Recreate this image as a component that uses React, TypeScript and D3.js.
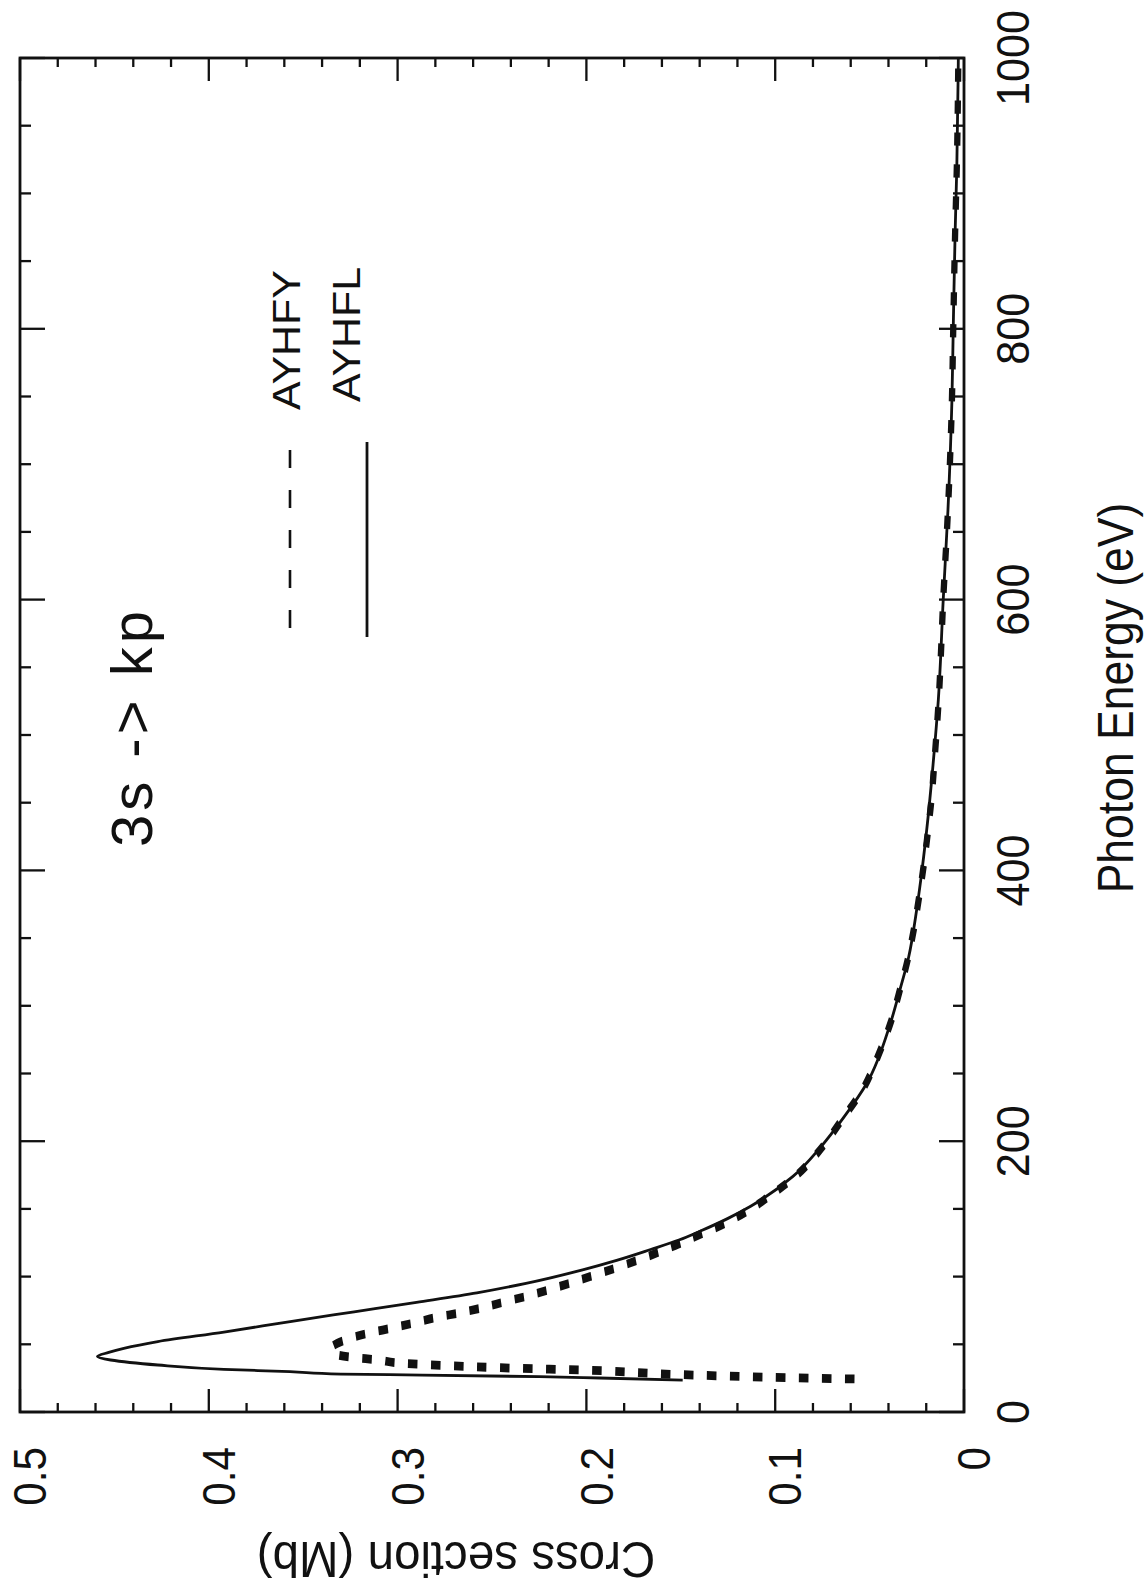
import { useEffect, useRef } from 'react';
import * as d3 from 'd3';

// photon energy axis (eV) and cross section axis (Mb)
const energyTicks = [0, 200, 400, 600, 800, 1000];
const sigmaTicks = [0.5, 0.4, 0.3, 0.2, 0.1, 0];
const sigmaTickLabels = ['0.5', '0.4', '0.3', '0.2', '0.1', '0'];

// AYHFL (solid line)
const ayhflEnergy = [23.6, 25.1, 26.1, 27.3, 28.0, 29.8, 31.5, 34.7, 38.4, 41.0, 44.0, 47.0, 52.0, 59.0, 67.0, 74.0, 81.0, 88.0, 95.0, 105, 112, 120, 127, 134, 143, 152, 174, 195, 217, 243, 287, 312, 336, 366, 393, 428, 478, 526, 600, 666, 747, 800, 871, 920, 1000];
const ayhflSigma = [0.149, 0.193, 0.225, 0.287, 0.33, 0.357, 0.392, 0.427, 0.452, 0.459, 0.453, 0.445, 0.427, 0.392, 0.356, 0.323, 0.29, 0.258, 0.232, 0.202, 0.184, 0.166, 0.151, 0.139, 0.125, 0.113, 0.0906, 0.0763, 0.064, 0.0514, 0.039, 0.0339, 0.0293, 0.0256, 0.0229, 0.0199, 0.0164, 0.0136, 0.011, 0.0085, 0.0064, 0.0057, 0.0047, 0.0038, 0.003];

// AYHFY (dashed line, drawn as square dots)
const ayhfyEnergy = [24.4, 25.8, 27.8, 31.0, 32.3, 34.2, 36.0, 38.4, 40.5, 43.5, 47.0, 53.0, 58.0, 62.0, 65.5, 70.0, 73.0, 77.0, 81.5, 85.0, 92.0, 100, 112, 123, 131, 139, 149, 161.5, 175, 193.5, 216, 240, 262, 287, 312, 336, 357, 382, 405, 430, 453, 478, 526, 600, 666, 747, 800, 871, 920, 1000];
const ayhfySigma = [0.058, 0.106, 0.154, 0.202, 0.237, 0.273, 0.298, 0.31, 0.325, 0.334, 0.335, 0.328, 0.316, 0.303, 0.292, 0.279, 0.268, 0.255, 0.243, 0.233, 0.216, 0.198, 0.173, 0.153, 0.14, 0.127, 0.114, 0.101, 0.0885, 0.0763, 0.0646, 0.0529, 0.0458, 0.039, 0.0339, 0.0295, 0.0265, 0.0236, 0.0212, 0.019, 0.0172, 0.0158, 0.0134, 0.011, 0.0085, 0.0064, 0.0057, 0.0047, 0.0038, 0.003];

const legendNames = ['AYHFY', 'AYHFL'];
const panelLabel = '3s -> kp';

const W = 1148;
const H = 1590;
const FONT = '"Liberation Sans", Arial, Helvetica, sans-serif';

type Pt = { e: number; s: number };

function App() {
  const svgRef = useRef<SVGSVGElement>(null);

  useEffect(() => {
    const svg = d3.select(svgRef.current);
    svg.selectAll('*').remove();

    // the figure is turned on its side: energy runs up the right edge, cross section runs right-to-left
    const box = { left: 20, right: 964, top: 58, bottom: 1412 };
    const sx = d3.scaleLinear().domain([0, 0.5]).range([box.right, box.left]);
    const sy = d3.scaleLinear().domain([0, 1000]).range([box.bottom, box.top]);

    svg.append('rect').attr('width', W).attr('height', H).attr('fill', '#fff');

    // frame
    svg.append('rect')
      .attr('x', box.left).attr('y', box.top)
      .attr('width', box.right - box.left).attr('height', box.bottom - box.top)
      .attr('fill', 'none').attr('stroke', '#111').attr('stroke-width', 2.8);

    const ticks = svg.append('g').attr('stroke', '#111').attr('stroke-width', 2.3);

    // cross section ticks, bottom and top edges
    const sMinor = d3.range(0, 26).map(i => i * 0.02);
    sMinor.forEach((v, i) => {
      const len = i % 5 === 0 ? 23 : 9;
      const x = sx(v);
      ticks.append('line').attr('x1', x).attr('x2', x).attr('y1', box.bottom).attr('y2', box.bottom - len);
      ticks.append('line').attr('x1', x).attr('x2', x).attr('y1', box.top).attr('y2', box.top + len);
    });

    // energy ticks, right and left edges
    const eMinor = d3.range(0, 21).map(i => i * 50);
    eMinor.forEach(v => {
      const len = v % 200 === 0 ? 25 : 11;
      const y = sy(v);
      ticks.append('line').attr('x1', box.right).attr('x2', box.right - len).attr('y1', y).attr('y2', y);
      ticks.append('line').attr('x1', box.left).attr('x2', box.left + len).attr('y1', y).attr('y2', y);
    });

    // tick labels
    svg.append('g').selectAll('text')
      .data(energyTicks)
      .join('text')
      .attr('transform', d => `translate(1013, ${sy(d)}) rotate(-90) scale(0.92, 1)`)
      .attr('text-anchor', 'middle')
      .attr('dominant-baseline', 'central')
      .attr('font-family', FONT).attr('font-size', 47).attr('fill', '#111')
      .text(d => String(d));

    svg.append('g').selectAll('text')
      .data(sigmaTicks)
      .join('text')
      .attr('transform', d => `translate(${sx(d) + 10}, 1447) rotate(-90) scale(0.9, 1)`)
      .attr('text-anchor', 'end')
      .attr('dominant-baseline', 'central')
      .attr('font-family', FONT).attr('font-size', 47).attr('fill', '#111')
      .text((d, i) => sigmaTickLabels[i]);

    // axis titles
    svg.append('text')
      .attr('transform', 'translate(1133, 698) rotate(-90) scale(0.89, 1)')
      .attr('text-anchor', 'middle')
      .attr('font-family', FONT).attr('font-size', 50).attr('fill', '#111')
      .text('Photon Energy (eV)');

    svg.append('text')
      .attr('transform', 'translate(456, 1542) rotate(180) scale(0.95, 1)')
      .attr('text-anchor', 'middle')
      .attr('font-family', FONT).attr('font-size', 50).attr('fill', '#111')
      .text('Cross section (Mb)');

    // curves
    const solid: Pt[] = ayhflEnergy.map((e, i) => ({ e, s: ayhflSigma[i] }));
    const dotted: Pt[] = ayhfyEnergy.map((e, i) => ({ e, s: ayhfySigma[i] }));

    svg.append('path')
      .datum(solid)
      .attr('d', d3.line<Pt>().x(d => sx(d.s)).y(d => sy(d.e)).curve(d3.curveMonotoneY))
      .attr('fill', 'none').attr('stroke', '#111').attr('stroke-width', 2.8);

    // the scan is stretched vertically, so the dash squares are drawn in a squashed frame and scaled back
    const k = 1.39;
    svg.append('g').attr('transform', `scale(1, ${k})`)
      .append('path')
      .datum(dotted)
      .attr('d', d3.line<Pt>().x(d => sx(d.s)).y(d => sy(d.e) / k).curve(d3.curveMonotoneY))
      .attr('fill', 'none').attr('stroke', '#111').attr('stroke-width', 6.3)
      .attr('stroke-dasharray', '9.5 13.5').attr('stroke-linecap', 'butt');

    // legend
    svg.append('line')
      .attr('x1', 290).attr('x2', 290).attr('y1', 628).attr('y2', 450)
      .attr('stroke', '#111').attr('stroke-width', 2.6).attr('stroke-dasharray', '18 22');
    svg.append('line')
      .attr('x1', 367).attr('x2', 367).attr('y1', 637).attr('y2', 442)
      .attr('stroke', '#111').attr('stroke-width', 2.8);

    [[300, 410], [360, 402]].forEach(([x, y], i) => {
      svg.append('text')
        .attr('transform', `translate(${x}, ${y}) rotate(-90) scale(1.1, 1)`)
        .attr('font-family', FONT).attr('font-size', 39).attr('fill', '#111')
        .text(legendNames[i]);
    });

    svg.append('text')
      .attr('transform', 'translate(152, 847) rotate(-90)')
      .attr('font-family', FONT).attr('font-size', 58).attr('fill', '#111')
      .attr('letter-spacing', 4)
      .text(panelLabel);
  }, []);

  return (
    <svg
      ref={svgRef}
      width={W}
      height={H}
      style={{ position: 'absolute', left: 0, top: 0, display: 'block' }}
    />
  );
}

export default App;
